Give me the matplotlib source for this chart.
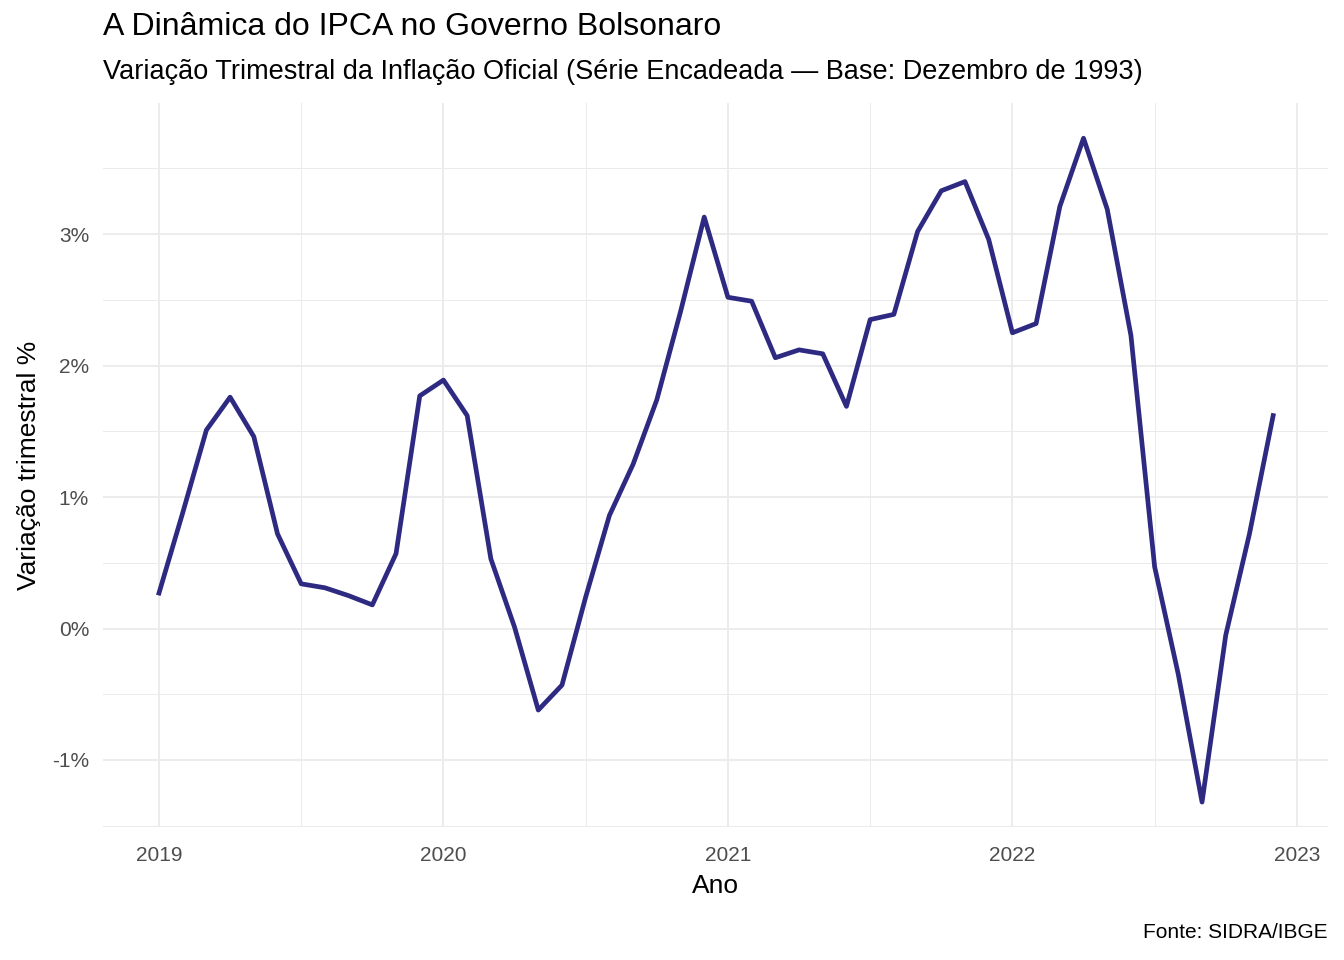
import matplotlib
matplotlib.use("Agg")
import matplotlib.pyplot as plt
from matplotlib.ticker import FuncFormatter, MultipleLocator, FixedLocator

plt.rcParams['font.family'] = ['Liberation Sans', 'DejaVu Sans']

months = list(range(48))  # Jan 2019 .. Dec 2022
ipca_tri = [0.27, 0.88, 1.51, 1.76, 1.46, 0.72, 0.34, 0.31, 0.25, 0.18, 0.57, 1.77,
            1.89, 1.62, 0.53, 0.01, -0.62, -0.43, 0.24, 0.86, 1.25, 1.74, 2.41, 3.13,
            2.52, 2.49, 2.06, 2.12, 2.09, 1.69, 2.35, 2.39, 3.02, 3.33, 3.40, 2.96,
            2.25, 2.32, 3.21, 3.73, 3.19, 2.23, 0.47, -0.35, -1.32, -0.05, 0.72, 1.62]
x = [2019 + m / 12 for m in months]
year_ticks = [2019, 2020, 2021, 2022, 2023]
y_ticks = [-1, 0, 1, 2, 3]

fig = plt.figure(figsize=(13.44, 9.6), dpi=100)
ax = fig.add_axes([0.0766, 0.1385, 0.9114, 0.7545])
ax.plot(x, ipca_tri, color='#2E2A82', lw=3.4, solid_joinstyle='round')
ax.set_xlim(2018.803, 2023.109)
ax.set_ylim(-1.51, 4.0)
ax.set_xticks(year_ticks)
ax.set_xticklabels([str(y) for y in year_ticks])
ax.xaxis.set_minor_locator(MultipleLocator(0.5))
ax.yaxis.set_major_locator(FixedLocator(y_ticks))
ax.yaxis.set_minor_locator(FixedLocator([-1.5, -0.5, 0.5, 1.5, 2.5, 3.5]))
ax.yaxis.set_major_formatter(FuncFormatter(lambda v, p: f"{int(round(v))}%"))
ax.grid(which='major', color='#EBEBEB', lw=1.3)
ax.grid(which='minor', color='#EBEBEB', lw=0.7)
ax.set_axisbelow(True)
for s in ax.spines.values():
    s.set_visible(False)
ax.tick_params(which='both', length=0, labelsize=15, labelcolor='#4D4D4D')
ax.tick_params(axis='x', pad=14)
ax.tick_params(axis='y', pad=10)
ax.set_xlabel('Ano', fontsize=19, labelpad=6)
ax.set_ylabel('Variação trimestral %', fontsize=19, labelpad=8)
fig.text(0.0766, 1 - 12 / 960, 'A Dinâmica do IPCA no Governo Bolsonaro', fontsize=23, va='top')
fig.text(0.0766, 1 - 59 / 960, 'Variação Trimestral da Inflação Oficial (Série Encadeada — Base: Dezembro de 1993)', fontsize=19.5, va='top')
fig.text(0.988, 1 - 933 / 960, 'Fonte: SIDRA/IBGE', fontsize=15, ha='right', va='center')
fig.savefig('out.png', dpi=100)
